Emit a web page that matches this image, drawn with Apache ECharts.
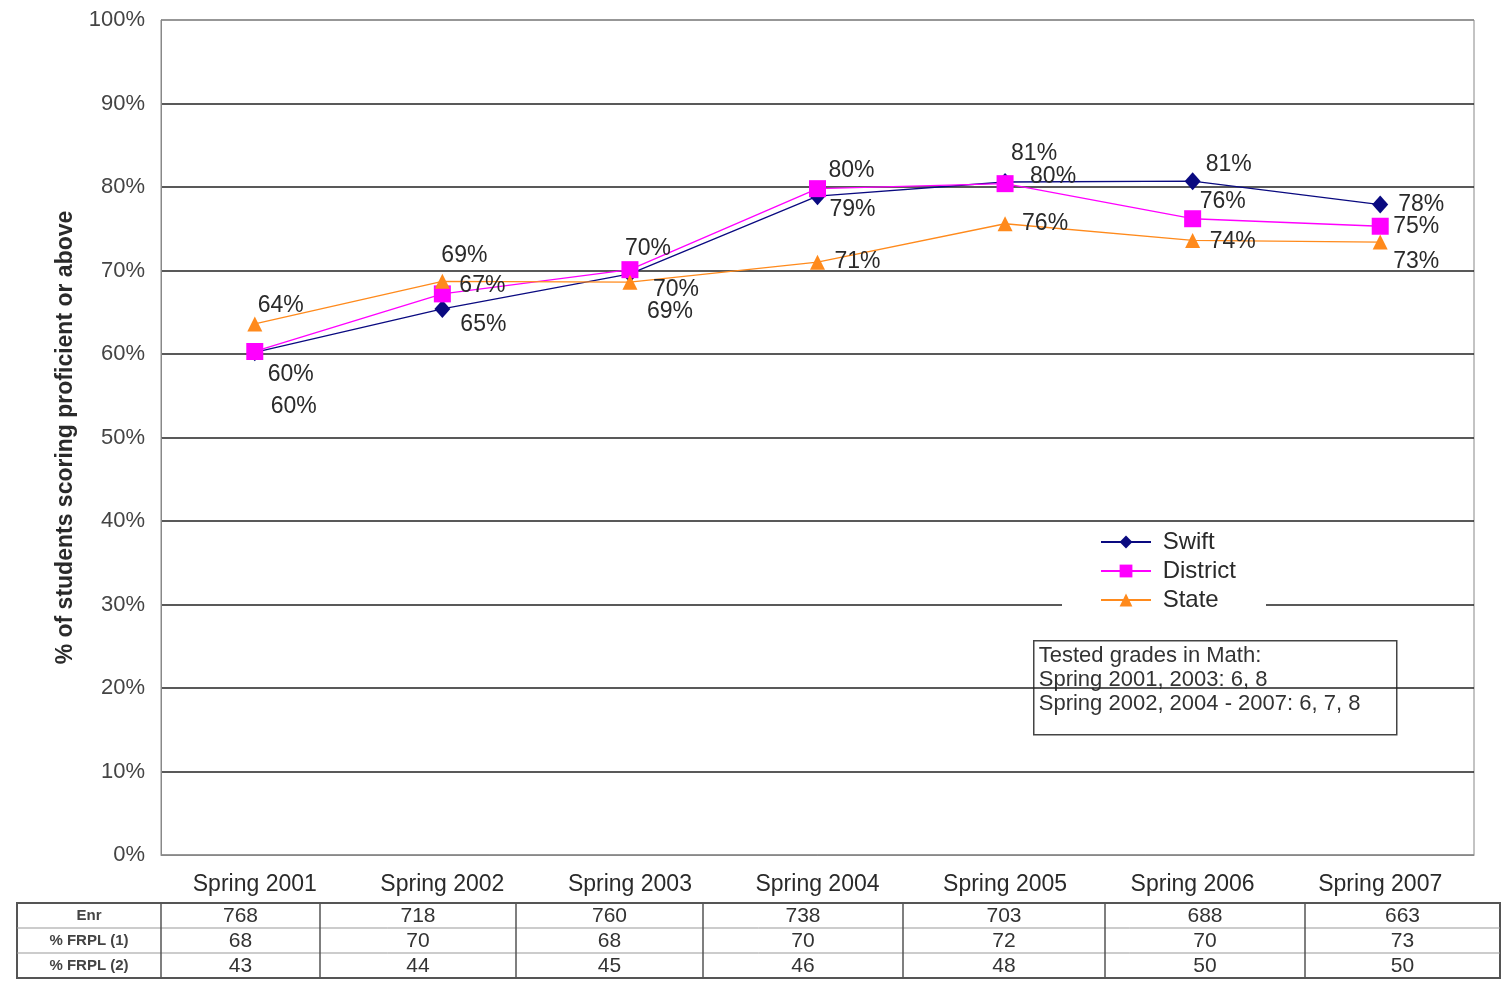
<!DOCTYPE html>
<html>
<head>
<meta charset="utf-8">
<script src="https://cdn.jsdelivr.net/npm/echarts@6/dist/echarts.min.js"></script>
<style>
  html, body { margin: 0; padding: 0; background: #fff; }
  #chart { width: 1501px; height: 981px; }
</style>
</head>
<body>
<div id="chart"></div>
<script>
// chart data
const years = ['Spring 2001', 'Spring 2002', 'Spring 2003', 'Spring 2004', 'Spring 2005', 'Spring 2006', 'Spring 2007']
const swift = [60.2, 65.4, 69.6, 78.9, 80.6, 80.7, 77.9]
const district = [60.3, 67.2, 70.1, 79.8, 80.4, 76.2, 75.3]
const state = [63.6, 68.7, 68.6, 71.0, 75.6, 73.6, 73.4]

// data table under the chart
const tableRows = ['Enr', '% FRPL (1)', '% FRPL (2)']
const enrollment = [768, 718, 760, 738, 703, 688, 663]
const frpl1 = [68, 70, 68, 70, 72, 70, 73]
const frpl2 = [43, 44, 45, 46, 48, 50, 50]

const noteLines = ['Tested grades in Math:', 'Spring 2001, 2003: 6, 8', 'Spring 2002, 2004 - 2007: 6, 7, 8']

// label placement (px from marker centre), picked by hand like in the original
const swiftLabelPos = [[39, 54], [41, 16], [46, 16], [35, 13], [29, -28], [36, -16], [41, 0]]
const districtLabelPos = [[36, 23], [40, -8], [18, -21], [34, -18], [48, -7], [30, -17], [36, 0]]
const stateLabelPos = [[26, -18], [22, -26], [40, 29], [40, 0], [40, 0], [40, 1], [36, 20]]

const FONT = 'Liberation Sans, Arial, sans-serif'
const chart = echarts.init(document.getElementById('chart'))

function withLabels(values, offsets) {
  return values.map((v, i) => ({
    value: v,
    label: { offset: offsets[i] }
  }))
}

function makeSeries(name, values, offsets, color, symbol, size) {
  return {
    name,
    type: 'line',
    data: withLabels(values, offsets),
    symbol,
    symbolSize: size,
    lineStyle: { color, width: 1.3 },
    itemStyle: { color },
    label: {
      show: true,
      position: 'inside',
      formatter: p => Math.round(p.value) + '%',
      fontFamily: FONT,
      fontSize: 23,
      color: '#2a2a2a'
    },
    emphasis: { disabled: true },
    animation: false
  }
}

// table graphic
const tableLeft = 17
const tableRight = 1500
const tableTop = 903
const rowH = 25
const colEdges = [161, 320, 516, 703, 903, 1105, 1305, 1500]
const tableData = [enrollment, frpl1, frpl2]

const tableGraphic = []
tableGraphic.push({
  type: 'rect',
  shape: { x: tableLeft, y: tableTop, width: tableRight - tableLeft, height: rowH * 3 },
  style: { fill: '#fff', stroke: '#555', lineWidth: 2 }
})
for (let r = 1; r < 3; r++) {
  tableGraphic.push({
    type: 'line',
    shape: { x1: tableLeft, y1: tableTop + r * rowH, x2: tableRight, y2: tableTop + r * rowH },
    style: { stroke: '#999', lineWidth: 1 }
  })
}
colEdges.slice(0, -1).forEach(x => {
  tableGraphic.push({
    type: 'line',
    shape: { x1: x, y1: tableTop, x2: x, y2: tableTop + rowH * 3 },
    style: { stroke: '#555', lineWidth: 1.5 }
  })
})
tableRows.forEach((name, r) => {
  tableGraphic.push({
    type: 'text',
    x: (tableLeft + colEdges[0]) / 2,
    y: tableTop + r * rowH + rowH / 2,
    style: {
      text: name, fontFamily: FONT, fontSize: 15, fontWeight: 'bold',
      fill: '#444', align: 'center', verticalAlign: 'middle'
    }
  })
  tableData[r].forEach((v, c) => {
    tableGraphic.push({
      type: 'text',
      x: (colEdges[c] + colEdges[c + 1]) / 2,
      y: tableTop + r * rowH + rowH / 2 + 1,
      style: {
        text: String(v), fontFamily: FONT, fontSize: 21,
        fill: '#333', align: 'center', verticalAlign: 'middle'
      }
    })
  })
})

// note box
const noteGraphic = {
  type: 'group',
  left: 1033,
  top: 640,
  children: [
    {
      type: 'rect',
      shape: { x: 0, y: 0, width: 363, height: 94 },
      style: { fill: '#fff', stroke: '#444', lineWidth: 1.5 }
    },
    {
      type: 'text',
      x: 5,
      y: 3,
      style: {
        text: noteLines.join('\n'),
        fontFamily: FONT, fontSize: 22, lineHeight: 24, fill: '#333'
      }
    }
  ]
}

const gridColors = ['#888'].concat(Array(9).fill('#222'), ['#888'])

chart.setOption({
  backgroundColor: '#fff',
  animation: false,
  grid: {
    left: 161, right: 27, top: 20, bottom: 126,
    show: true, borderColor: '#888', borderWidth: 1
  },
  legend: {
    orient: 'vertical',
    left: 1062,
    top: 526,
    data: ['Swift', 'District', 'State'],
    formatter: name => ' ' + name,
    backgroundColor: '#fff',
    padding: [3, 30, 3, 38],
    itemWidth: 50,
    itemHeight: 16,
    itemGap: 3,
    textStyle: { fontFamily: FONT, fontSize: 24, color: '#2a2a2a', lineHeight: 26 }
  },
  xAxis: {
    type: 'category',
    data: years,
    axisLine: { lineStyle: { color: '#888' } },
    axisTick: { show: false },
    axisLabel: { fontFamily: FONT, fontSize: 23, color: '#2a2a2a', margin: 18 }
  },
  yAxis: {
    type: 'value',
    min: 0,
    max: 100,
    interval: 10,
    name: '% of students scoring proficient or above',
    nameLocation: 'middle',
    nameRotate: 90,
    nameGap: 84,
    nameTextStyle: { fontFamily: FONT, fontSize: 23, fontWeight: 'bold', color: '#2a2a2a' },
    axisLine: { show: true, lineStyle: { color: '#888' } },
    axisTick: { show: false },
    axisLabel: { formatter: '{value}%', fontFamily: FONT, fontSize: 22, color: '#444', margin: 16 },
    splitLine: { lineStyle: { color: gridColors, width: 1.5 } }
  },
  series: [
    makeSeries('Swift', swift, swiftLabelPos, '#0a0a80', 'diamond', [16, 18]),
    makeSeries('District', district, districtLabelPos, '#ff00ff', 'rect', 17),
    makeSeries('State', state, stateLabelPos, '#ff8a1c', 'triangle', 15)
  ],
  graphic: tableGraphic.concat([noteGraphic])
})
</script>
</body>
</html>
